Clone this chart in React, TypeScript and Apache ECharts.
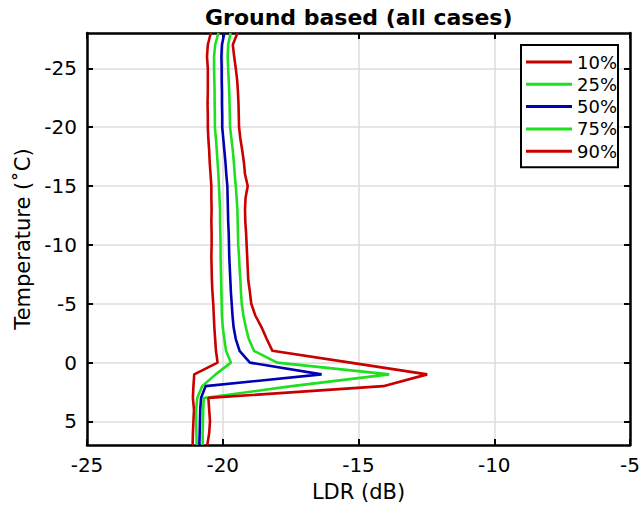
import React, { useEffect, useRef } from 'react';
import * as echarts from 'echarts';

// temperature levels (deg C), top of the plot to the bottom
const temps = [
  -28, -27, -26, -25, -24, -23, -22, -21, -20, -19,
  -18, -17, -16, -15, -14, -13, -12, -11, -10, -9,
  -8, -7, -6, -5, -4, -3, -2, -1, 0, 1,
  2, 3, 4, 5, 6, 7,
];

// LDR percentiles (dB) at each temperature level
const p10 = [
  -20.44, -20.55, -20.58, -20.55, -20.55, -20.55, -20.56, -20.55, -20.55, -20.53,
  -20.5, -20.48, -20.45, -20.42, -20.42, -20.41, -20.42, -20.41, -20.41, -20.42,
  -20.41, -20.4, -20.38, -20.35, -20.33, -20.31, -20.28, -20.25, -20.19, -21.05,
  -21.08, -21.1, -21.06, -21.08, -21.1, -21.11,
];
const p25 = [
  -20.16, -20.28, -20.32, -20.32, -20.31, -20.3, -20.3, -20.29, -20.29, -20.25,
  -20.22, -20.19, -20.16, -20.14, -20.12, -20.1, -20.1, -20.09, -20.08, -20.08,
  -20.07, -20.06, -20.05, -20.04, -20.03, -20.0, -19.94, -19.88, -19.7, -20.26,
  -20.76, -20.94, -20.98, -20.98, -20.97, -20.96,
];
const p50 = [
  -19.94, -20.03, -20.05, -20.04, -20.04, -20.03, -20.03, -20.02, -20.02, -19.98,
  -19.94, -19.9, -19.87, -19.83, -19.82, -19.81, -19.8, -19.78, -19.77, -19.76,
  -19.74, -19.72, -19.7, -19.67, -19.64, -19.6, -19.52, -19.38, -19.0, -16.36,
  -20.63, -20.8, -20.83, -20.84, -20.85, -20.86,
];
const p75 = [
  -19.71, -19.8, -19.82, -19.8, -19.78, -19.76, -19.75, -19.74, -19.73, -19.68,
  -19.63, -19.59, -19.56, -19.52, -19.49, -19.46, -19.45, -19.44, -19.43, -19.4,
  -19.38, -19.35, -19.33, -19.3, -19.24, -19.15, -19.04, -18.85, -18.0, -13.87,
  -17.45, -20.7, -20.72, -20.73, -20.74, -20.74,
];
const p90 = [
  -19.46, -19.63, -19.58, -19.52, -19.47, -19.44, -19.42, -19.41, -19.4, -19.35,
  -19.28, -19.22, -19.18, -19.08, -19.16, -19.18, -19.17, -19.14, -19.12, -19.1,
  -19.08, -19.06, -19.0, -18.95, -18.8, -18.57, -18.38, -18.17, -15.3, -12.47,
  -14.09, -20.53, -20.5, -20.47, -20.5, -20.57,
];

const seriesNames = ['10%', '25%', '50%', '75%', '90%'];
const seriesColors = ['#c80000', '#1ee01e', '#0000b4', '#1ee01e', '#c80000'];
const tempTicks = [-25, -20, -15, -10, -5, 0, 5];

const FONT = 'DejaVu Sans';

const App: React.FC = () => {
  const chartRef = useRef<HTMLDivElement>(null);

  useEffect(() => {
    document.body.style.margin = '0';
    if (!chartRef.current) return;
    const chart = echarts.init(chartRef.current, undefined, { renderer: 'svg' });

    const all = [p10, p25, p50, p75, p90];
    const tickStyle = { show: true, inside: true, length: 6, lineStyle: { color: '#000', width: 2 } };
    const axisLine = { show: true, onZero: false, lineStyle: { color: '#000', width: 2.5 } };
    const gridLine = { show: true, lineStyle: { color: '#dcdcdc', width: 1.5 } };

    chart.setOption({
      animation: false,
      title: {
        text: 'Ground based (all cases)',
        left: 205,
        top: 6,
        padding: 0,
        textStyle: { fontFamily: FONT, fontSize: 22, fontWeight: 'bold', color: '#000' },
      },
      legend: {
        orient: 'vertical',
        left: 521,
        top: 45,
        padding: [8, 1, 7, 5],
        icon: 'rect',
        itemWidth: 46,
        itemHeight: 3,
        itemGap: 4.3,
        borderColor: '#000',
        borderWidth: 2,
        backgroundColor: '#fff',
        textStyle: { fontFamily: FONT, fontSize: 18, color: '#000' },
        data: seriesNames,
      },
      grid: { left: 87, right: 14, top: 33, bottom: 62 },
      xAxis: [
        {
          type: 'value',
          min: -25,
          max: -5,
          interval: 5,
          name: 'LDR (dB)',
          nameLocation: 'middle',
          nameGap: 36,
          nameTextStyle: { fontFamily: FONT, fontSize: 21, color: '#000' },
          axisLine,
          axisTick: tickStyle,
          axisLabel: { fontFamily: FONT, fontSize: 20, color: '#000', margin: 10 },
          splitLine: gridLine,
        },
        {
          type: 'value',
          position: 'top',
          min: -25,
          max: -5,
          interval: 5,
          axisLine,
          axisTick: tickStyle,
          axisLabel: { show: false },
          splitLine: { show: false },
        },
      ],
      yAxis: [
        {
          type: 'value',
          inverse: true,
          min: -28,
          max: 7,
          name: 'Temperature (˚C)',
          nameLocation: 'middle',
          nameGap: 52,
          nameTextStyle: { fontFamily: FONT, fontSize: 21, color: '#000' },
          axisLine,
          axisTick: { ...tickStyle, customValues: tempTicks },
          axisLabel: { fontFamily: FONT, fontSize: 20, color: '#000', margin: 10, customValues: tempTicks },
          splitLine: gridLine,
        },
        {
          type: 'value',
          position: 'right',
          inverse: true,
          min: -28,
          max: 7,
          axisLine,
          axisTick: { ...tickStyle, customValues: tempTicks },
          axisLabel: { show: false, customValues: tempTicks },
          splitLine: { show: false },
        },
      ],
      series: seriesNames.map((name, i) => ({
        name,
        type: 'line',
        xAxisIndex: 0,
        yAxisIndex: 0,
        symbol: 'none',
        color: seriesColors[i],
        lineStyle: { color: seriesColors[i], width: 2.6 },
        data: temps.map((t, j) => [all[i][j], t]),
        z: i === 2 ? 4 : 3,
      })),
    });

    return () => {
      chart.dispose();
    };
  }, []);

  return <div ref={chartRef} style={{ width: 644, height: 507 }} />;
};

export default App;
